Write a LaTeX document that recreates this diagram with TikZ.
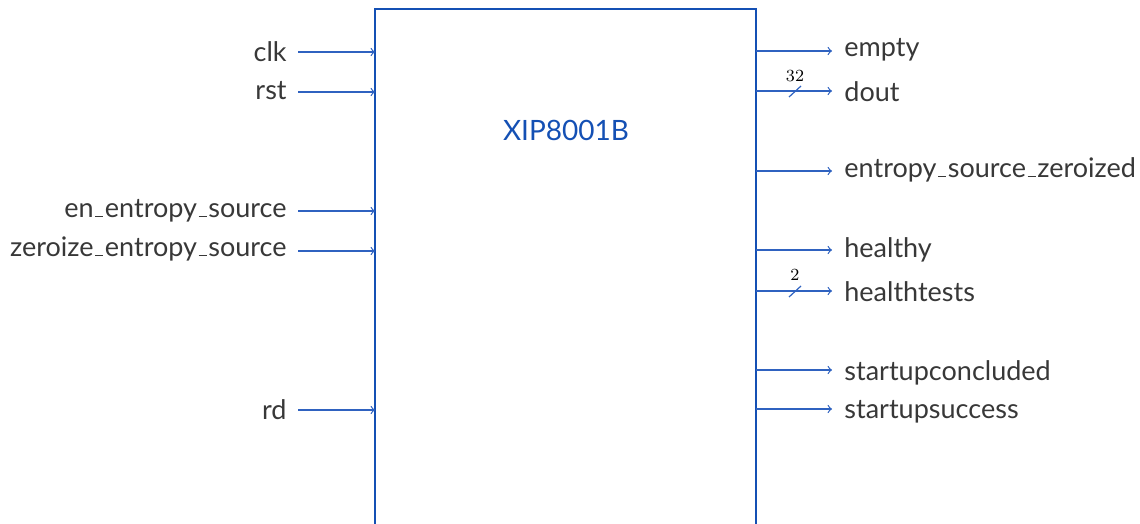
\documentclass[tikz,border=0pt]{standalone}
\usepackage{fontspec}
\setmainfont{Lato}
\newfontfamily\lmr{Latin Modern Roman}
\newcommand\us{\leavevmode\kern.06em\vbox{\hrule width.3em height 0.55pt}\kern.06em}
\begin{document}
\begin{tikzpicture}[x=0.5pt,y=-0.5pt,
  every node/.style={inner sep=0pt},
  sig/.style={draw=sigblue, line width=0.6pt, ->},
  lbl/.style={text=txtgray, font=\fontsize{13.5}{15}\selectfont},
  bw/.style={font=\lmr\fontsize{8.5}{9}\selectfont, text=black},
  slash/.style={draw=sigblue, line width=0.6pt}]
\definecolor{sigblue}{HTML}{2F62C0}
\definecolor{boxblue}{HTML}{1450B4}
\definecolor{txtgray}{HTML}{383838}
\useasboundingbox (0,0) rectangle (1140,524);
\draw[boxblue, line width=1.1pt] (375,560) -- (375,9) coordinate (tl) -- (756,9) coordinate (tr) -- (756,560);
\node[text=boxblue, font=\fontsize{14}{16}\selectfont] (title) at (566,130) {XIP8001B};
% left inputs
\foreach \n/\t/\y/\b in {clk/clk/52/62, rst/rst/92/100, en/en\us entropy\us source/211/217, zr/zeroize\us entropy\us source/251/256, rd/rd/410/419}{
  \coordinate (\n-s) at (298,\y);
  \coordinate (\n-e) at (375,\y);
  \node[lbl, anchor=base east] (\n-l) at (287,\b) {\t};
  \draw[sig] (\n-s) -- (\n-e);
}
% right outputs
\foreach \n/\t/\y/\b in {em/empty/51/57, do/dout/91/102, ez/entropy\us source\us zeroized/171/177, he/healthy/250/257, ht/healthtests/291/301, sc/startupconcluded/370/380, ss/startupsuccess/409/418}{
  \coordinate (\n-s) at (756,\y);
  \coordinate (\n-e) at (832,\y);
  \node[lbl, anchor=base west] (\n-l) at (844,\b) {\t};
  \draw[sig] (\n-s) -- (\n-e);
}
\draw[slash] (789,97) coordinate (s1a) -- (801,86);
\node[bw] (w32) at (795,76) {32};
\draw[slash] (789,297) coordinate (s2a) -- (801,286);
\node[bw] (w2) at (795,275) {2};
\end{tikzpicture}
\end{document}
